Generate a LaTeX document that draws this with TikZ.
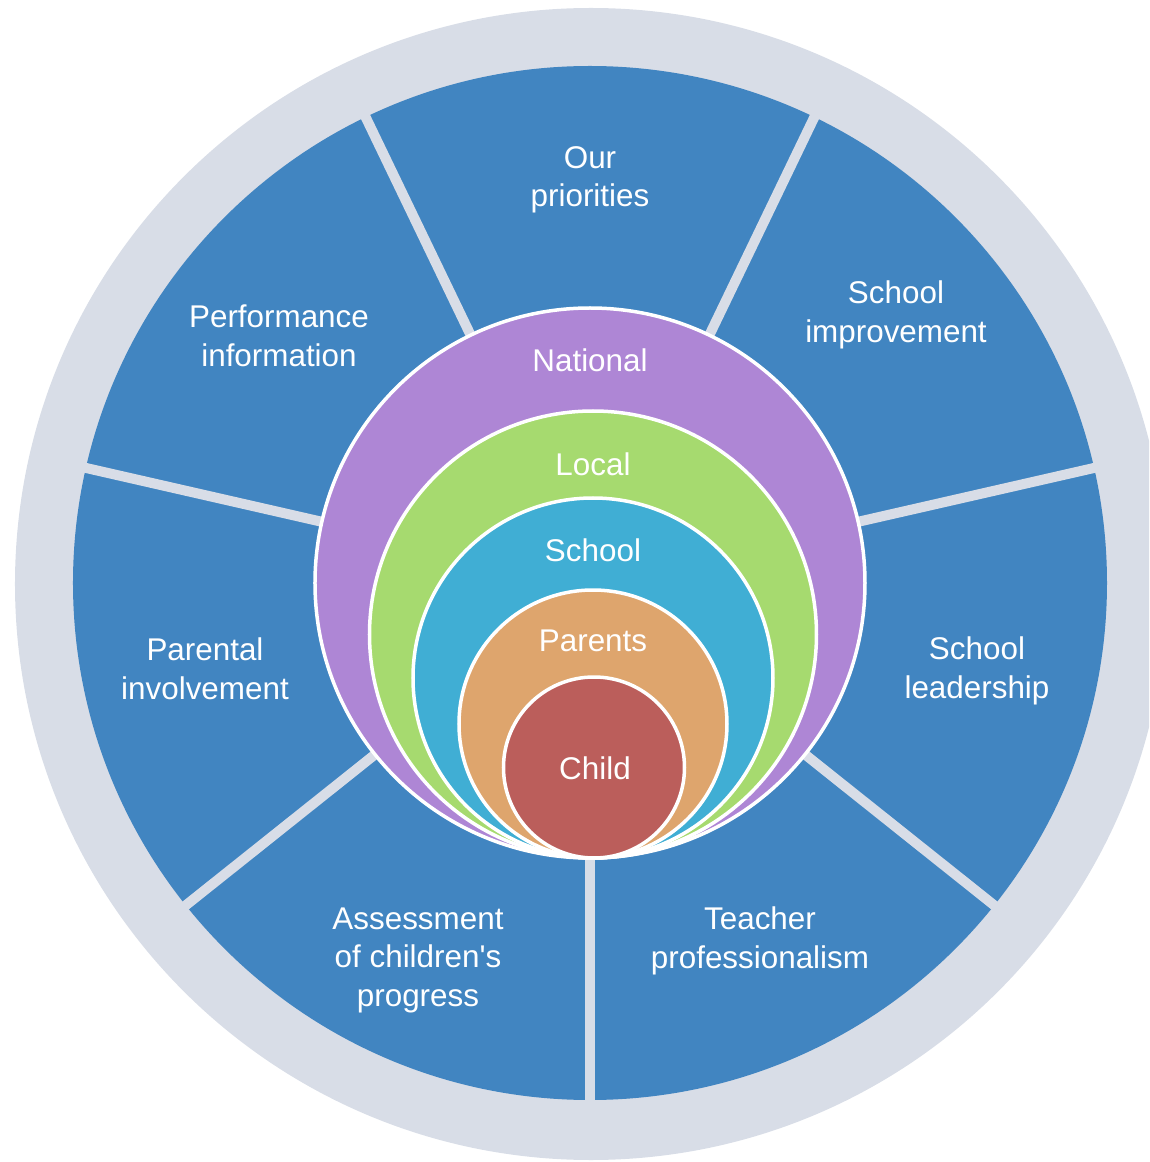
\documentclass[tikz,border=0pt]{standalone}
\usepackage{fontspec}
\setmainfont{Liberation Sans}
\definecolor{ringgrey}{RGB}{216,221,231}
\definecolor{segblue}{RGB}{65,133,193}
\definecolor{natpurple}{RGB}{174,134,213}
\definecolor{locgreen}{RGB}{166,218,111}
\definecolor{schcyan}{RGB}{64,174,212}
\definecolor{parorange}{RGB}{222,165,109}
\definecolor{childred}{RGB}{187,94,91}
\tikzset{
  lbl/.style={text=white, align=center, inner sep=0pt, font=\fontsize{31.4}{38.5}\selectfont},
  ring/.style={draw=white, line width=3.5pt},
  gap/.style={draw=ringgrey, line width=10pt, line cap=butt}
}
\begin{document}
\begin{tikzpicture}[x=1pt,y=1pt]
\useasboundingbox (-590,-579) rectangle (559,583);
\clip (-590,-579) rectangle (559,583);
% outer grey ring and blue disc
\fill[ringgrey] (1,-1) circle (576);
\fill[segblue] (0,0) circle (517);
% separators between the seven segments
\foreach \k in {0,...,6} {
  \draw[gap] (0,0) -- ({270+\k*360/7}:530);
}
% nested circles
\filldraw[ring, fill=natpurple] (0,0) circle (275);
\filldraw[ring, fill=locgreen] (3,-51.5) circle (223.5);
\filldraw[ring, fill=schcyan] (3,-95) circle (180);
\filldraw[ring, fill=parorange] (3,-141) circle (134);
\filldraw[ring, fill=childred] (4,-184.5) circle (90.5);
% outer segment labels
\node[lbl] (prio) at (0,403) {Our\\priorities};
\node[lbl] (perf) at (-311,247) {Performance\\information};
\node[lbl] (impr) at (306,268) {School\\improvement};
\node[lbl] (pare) at (-385,-86) {Parental\\involvement};
\node[lbl] (lead) at (387,-88) {School\\leadership};
\node[lbl] (asse) at (-172,-377) {Assessment\\of children\textquotesingle s\\progress};
\node[lbl] (teac) at (170,-358) {Teacher\\professionalism};
% inner circle labels
\node[lbl] (nat) at (0,223) {National};
\node[lbl] (loc) at (3,119) {Local};
\node[lbl] (sch) at (3,33) {School};
\node[lbl] (par) at (3,-58) {Parents};
\node[lbl] (chi) at (5,-185) {Child};
\end{tikzpicture}
\end{document}
